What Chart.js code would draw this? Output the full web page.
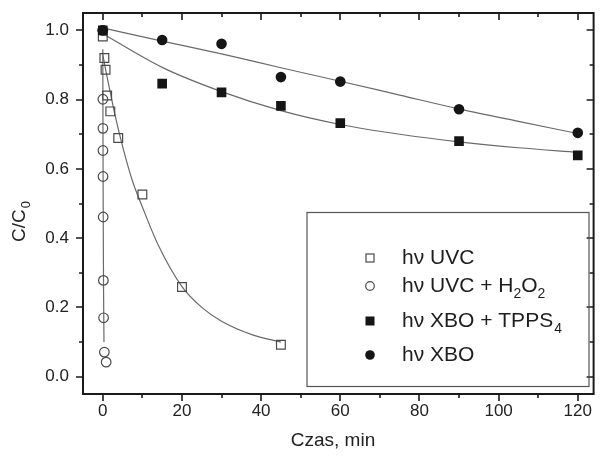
<!DOCTYPE html>
<html>
<head>
<meta charset="utf-8">
<script src="https://cdn.jsdelivr.net/npm/chart.js@4.4.0/dist/chart.umd.min.js"></script>
<style>
html,body{margin:0;padding:0;background:#fff;}
#wrap{width:601px;height:461px;}
</style>
</head>
<body>
<div id="wrap"><canvas id="c" width="601" height="461"></canvas></div>
<script>
// ---- data ----
const uvcT  = [0, 0.4, 0.7, 1.1, 1.9, 3.9, 10, 20, 45];
const uvcC  = [0.982, 0.92, 0.886, 0.812, 0.766, 0.689, 0.526, 0.259, 0.092];

const h2o2T = [0, 0.02, 0.03, 0.04, 0.06, 0.1, 0.15, 0.2, 0.4, 0.85];
const h2o2C = [1.0, 0.801, 0.717, 0.653, 0.578, 0.461, 0.278, 0.170, 0.071, 0.042];

const tppsT = [0, 15, 30, 45, 60, 90, 120];
const tppsC = [1.0, 0.846, 0.821, 0.782, 0.732, 0.680, 0.639];

const xboT  = [0, 15, 30, 45, 60, 90, 120];
const xboC  = [1.0, 0.972, 0.961, 0.865, 0.852, 0.772, 0.704];

// fitted curves
const uvcFitT  = [0, 1, 2, 3, 5, 7.5, 10, 14, 20, 25, 30, 38, 45];
const uvcFitC  = [0.93, 0.87, 0.815, 0.76, 0.665, 0.565, 0.49, 0.38, 0.26, 0.2, 0.16, 0.12, 0.10];

const h2o2FitT = [0, 0.05, 0.1, 0.15, 0.2, 0.3];
const h2o2FitC = [0.945, 0.7, 0.5, 0.35, 0.24, 0.1];

const tppsFitT = [0, 15, 30, 45, 60, 75, 90, 105, 120];
const tppsFitC = [0.99, 0.893, 0.823, 0.768, 0.728, 0.70, 0.678, 0.661, 0.648];

const xboFitT  = [0, 15, 30, 45, 60, 75, 90, 105, 120];
const xboFitC  = [1.007, 0.969, 0.932, 0.892, 0.853, 0.813, 0.773, 0.737, 0.702];

const xTicks = [0, 20, 40, 60, 80, 100, 120];
const xTickLabels = ['0', '20', '40', '60', '80', '100', '120'];
const xMinor = [10, 30, 50, 70, 90, 110];
const yTicks = [0, 0.2, 0.4, 0.6, 0.8, 1.0];
const yTickLabels = ['0.0', '0.2', '0.4', '0.6', '0.8', '1.0'];
const yMinor = [0.1, 0.3, 0.5, 0.7, 0.9];

const seriesNames = ['h\u03bd UVC', 'h\u03bd UVC + H', 'h\u03bd XBO + TPPS', 'h\u03bd XBO'];
const xTitle = 'Czas, min';
const yTitle = 'C/C';

// ---- helpers ----
const pts = (t, c) => t.map((v, i) => ({x: v, y: c[i]}));
const FONT = '"Liberation Sans", Arial, sans-serif';
const LINE = '#6a6a6a';
const OPEN = '#4a4a4a';
const FILL = '#151515';

const fitLine = (t, c) => ({
  type: 'line', data: pts(t, c), borderColor: LINE, borderWidth: 1.2,
  pointRadius: 0, fill: false, cubicInterpolationMode: 'monotone', order: 5
});

const framePlugin = {
  id: 'frame',
  afterDraw(chart) {
    const ctx = chart.ctx, a = chart.chartArea;
    const xs = chart.scales.x, ys = chart.scales.y;
    ctx.save();
    ctx.strokeStyle = '#1a1a1a';
    ctx.lineWidth = 2;
    ctx.strokeRect(a.left, a.top, a.right - a.left, a.bottom - a.top);
    ctx.lineWidth = 1.6;
    ctx.beginPath();
    const tickX = (v, len) => {
      const px = Math.round(xs.getPixelForValue(v));
      ctx.moveTo(px, a.bottom); ctx.lineTo(px, a.bottom + len);
      ctx.moveTo(px, a.top); ctx.lineTo(px, a.top + len);
    };
    const tickY = (v, len) => {
      const py = Math.round(ys.getPixelForValue(v));
      ctx.moveTo(a.left, py); ctx.lineTo(a.left - len, py);
      ctx.moveTo(a.right, py); ctx.lineTo(a.right - len, py);
    };
    xTicks.forEach(v => tickX(v, 7));
    xMinor.forEach(v => tickX(v, 4));
    yTicks.forEach(v => tickY(v, 7));
    yMinor.forEach(v => tickY(v, 4));
    ctx.stroke();

    // tick labels
    ctx.fillStyle = '#222';
    ctx.font = '17px ' + FONT;
    ctx.textAlign = 'center';
    ctx.textBaseline = 'top';
    xTicks.forEach((v, i) => ctx.fillText(xTickLabels[i], xs.getPixelForValue(v), a.bottom + 9));
    ctx.textAlign = 'right';
    ctx.textBaseline = 'middle';
    yTicks.forEach((v, i) => ctx.fillText(yTickLabels[i], a.left - 14, ys.getPixelForValue(v)));

    // axis titles
    ctx.font = '19px ' + FONT;
    ctx.textAlign = 'center';
    ctx.textBaseline = 'middle';
    ctx.fillText(xTitle, 333, 441);

    ctx.save();
    ctx.translate(20, 222);
    ctx.rotate(-Math.PI / 2);
    ctx.textAlign = 'left';
    ctx.font = '19px ' + FONT;
    const w1 = ctx.measureText(yTitle).width;
    ctx.font = '13px ' + FONT;
    const w2 = ctx.measureText('0').width;
    const x0 = -(w1 + w2) / 2;
    ctx.font = '19px ' + FONT;
    ctx.fillText(yTitle, x0, 0);
    ctx.font = '13px ' + FONT;
    ctx.fillText('0', x0 + w1 + 1, 6);
    ctx.restore();

    // legend box
    ctx.strokeStyle = '#555';
    ctx.lineWidth = 1.2;
    ctx.strokeRect(307, 212.5, 282, 174);
    const mx = 370, tx = 402;
    const rows = [258, 286, 321, 355];
    ctx.textAlign = 'left';
    ctx.textBaseline = 'middle';
    ctx.lineWidth = 1.2;
    ctx.strokeStyle = OPEN;
    ctx.strokeRect(mx - 4, rows[0] - 4, 8, 8);
    ctx.beginPath(); ctx.arc(mx, rows[1], 4.3, 0, Math.PI * 2); ctx.stroke();
    ctx.fillStyle = FILL;
    ctx.fillRect(mx - 4.5, rows[2] - 4.5, 9, 9);
    ctx.beginPath(); ctx.arc(mx, rows[3], 4.8, 0, Math.PI * 2); ctx.fill();
    ctx.fillStyle = '#1e1e1e';
    ctx.font = '21px ' + FONT;
    ctx.fillText(seriesNames[0], tx, rows[0]);
    let x = tx;
    const seg = (s, big, dy) => {
      ctx.font = (big ? '21px ' : '14px ') + FONT;
      ctx.fillText(s, x, rows[1] + dy);
      x += ctx.measureText(s).width;
    };
    seg(seriesNames[1], true, 0); seg('2', false, 8); seg('O', true, 0); seg('2', false, 8);
    ctx.font = '21px ' + FONT;
    ctx.fillText(seriesNames[2], tx, rows[2]);
    const w3 = ctx.measureText(seriesNames[2]).width;
    ctx.font = '14px ' + FONT;
    ctx.fillText('4', tx + w3 + 1, rows[2] + 8);
    ctx.font = '21px ' + FONT;
    ctx.fillText(seriesNames[3], tx, rows[3]);
    ctx.restore();
  }
};

new Chart(document.getElementById('c'), {
  type: 'scatter',
  data: {
    datasets: [
      fitLine(uvcFitT, uvcFitC),
      fitLine(h2o2FitT, h2o2FitC),
      fitLine(tppsFitT, tppsFitC),
      fitLine(xboFitT, xboFitC),
      { label: seriesNames[0], data: pts(uvcT, uvcC), pointStyle: 'rect', pointRadius: 6.2,
        borderColor: OPEN, borderWidth: 1.2, backgroundColor: 'rgba(0,0,0,0)', order: 3 },
      { label: seriesNames[1], data: pts(h2o2T, h2o2C), pointStyle: 'circle', pointRadius: 4.8,
        borderColor: OPEN, borderWidth: 1.2, backgroundColor: 'rgba(0,0,0,0)', order: 4 },
      { label: seriesNames[2], data: pts(tppsT, tppsC), pointStyle: 'rect', pointRadius: 6.8,
        borderColor: FILL, borderWidth: 0, backgroundColor: FILL, order: 2 },
      { label: seriesNames[3], data: pts(xboT, xboC), pointStyle: 'circle', pointRadius: 5.3,
        borderColor: FILL, borderWidth: 0, backgroundColor: FILL, order: 1 }
    ]
  },
  options: {
    responsive: false,
    animation: false,
    devicePixelRatio: 1,
    layout: { padding: { top: 13, right: -1, left: 0, bottom: 0 } },
    plugins: { legend: { display: false }, tooltip: { enabled: false } },
    scales: {
      x: {
        type: 'linear', min: -5, max: 124,
        grid: { display: false, drawTicks: false }, border: { display: false },
        afterBuildTicks: s => { s.ticks = xTicks.map(v => ({ value: v })); },
        afterFit: s => { s.height = 67; s.paddingLeft = 0; s.paddingRight = 0; },
        ticks: { display: false }
      },
      y: {
        type: 'linear', min: -0.05, max: 1.05,
        grid: { display: false, drawTicks: false }, border: { display: false },
        afterBuildTicks: s => { s.ticks = yTicks.map(v => ({ value: v })); },
        afterFit: s => { s.width = 83; s.paddingTop = 0; s.paddingBottom = 0; },
        ticks: { display: false }
      }
    }
  },
  plugins: [framePlugin]
});
</script>
</body>
</html>
